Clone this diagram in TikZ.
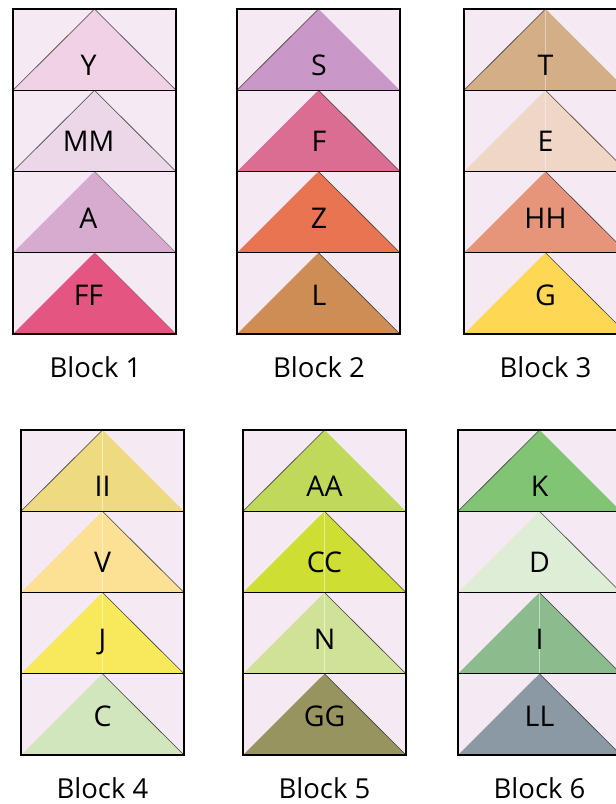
\documentclass[tikz,border=0pt]{standalone}
\usepackage{fontspec}
\setmainfont{Open Sans}
\usetikzlibrary{positioning}
\definecolor{cellbg}{HTML}{F5EAF3}
\definecolor{patchY}{HTML}{F0D1E6}
\definecolor{patchMM}{HTML}{ECD7E8}
\definecolor{patchA}{HTML}{D6ABCF}
\definecolor{patchFF}{HTML}{E45582}
\definecolor{patchS}{HTML}{CA98C8}
\definecolor{patchF}{HTML}{DA6D91}
\definecolor{patchZ}{HTML}{E87452}
\definecolor{patchL}{HTML}{CD8D55}
\definecolor{patchT}{HTML}{D4AE87}
\definecolor{patchE}{HTML}{EFD6C6}
\definecolor{patchHH}{HTML}{E7957A}
\definecolor{patchG}{HTML}{FED855}
\definecolor{patchII}{HTML}{EDDA81}
\definecolor{patchV}{HTML}{FCE195}
\definecolor{patchJ}{HTML}{F8E95C}
\definecolor{patchC}{HTML}{D1E6BD}
\definecolor{patchAA}{HTML}{C0D95B}
\definecolor{patchCC}{HTML}{CFDE33}
\definecolor{patchN}{HTML}{D0E198}
\definecolor{patchGG}{HTML}{989460}
\definecolor{patchK}{HTML}{81C574}
\definecolor{patchD}{HTML}{DEEDD6}
\definecolor{patchI}{HTML}{8CBB8D}
\definecolor{patchLL}{HTML}{8B99A4}

\tikzset{
  cellbox/.style={draw=black, line width=1.3pt},
  slant line/.style={draw=black!75, line width=0.6pt},
  mid line/.style={draw=white, line width=0.8pt},
  patch label/.style={font=\fontsize{28.5}{30}\selectfont, anchor=base, inner sep=0pt},
  block label/.style={font=\fontsize{27.5}{30}\selectfont, anchor=base, inner sep=0pt}
}

\begin{document}
\begin{tikzpicture}[x=1pt, y=-1pt]

\useasboundingbox (0,0) rectangle (616,804);
\clip (0,0) rectangle (616,804);

% Block 1
\begin{scope}[shift={(13,9)}]
\foreach \lab/\r/\el/\er/\em in {Y/0/1/1/0, MM/1/1/1/0, A/2/0/0.6/0, FF/3/0/0.4/0} {
  \fill[cellbg] (0,{\r*81.25}) rectangle (163,{(\r+1)*81.25});
  \fill[patch\lab] (0,{(\r+1)*81.25}) -- (81.5,{\r*81.25}) -- (163,{(\r+1)*81.25}) -- cycle;
  \draw[slant line, draw opacity=\el] (0,{(\r+1)*81.25}) -- (81.5,{\r*81.25});
  \draw[slant line, draw opacity=\er] (81.5,{\r*81.25}) -- (163,{(\r+1)*81.25});
  \draw[cellbox] (0,{\r*81.25}) rectangle (163,{(\r+1)*81.25});
  \node[patch label] (b1-\r) at (75.5,{\r*76.9+66}) {\lab};
}
\node[block label] (blk1) at (82.5,368.5) {Block 1};
\end{scope}

% Block 2
\begin{scope}[shift={(237,9)}]
\foreach \lab/\r/\el/\er/\em in {S/0/1/0/0, F/1/0/1/0, Z/2/0/1/0, L/3/0/1/0} {
  \fill[cellbg] (0,{\r*81.25}) rectangle (163,{(\r+1)*81.25});
  \fill[patch\lab] (0,{(\r+1)*81.25}) -- (81.5,{\r*81.25}) -- (163,{(\r+1)*81.25}) -- cycle;
  \draw[slant line, draw opacity=\el] (0,{(\r+1)*81.25}) -- (81.5,{\r*81.25});
  \draw[slant line, draw opacity=\er] (81.5,{\r*81.25}) -- (163,{(\r+1)*81.25});
  \draw[cellbox] (0,{\r*81.25}) rectangle (163,{(\r+1)*81.25});
  \node[patch label] (b2-\r) at (82,{\r*76.9+66}) {\lab};
}
\node[block label] (blk2) at (82,368.5) {Block 2};
\end{scope}

% Block 3 (runs past the right edge)
\begin{scope}[shift={(464,9)}]
\foreach \lab/\r/\el/\er/\em in {T/0/1/0/0.4, E/1/0/1/0.4, HH/2/0/1/0, G/3/0/1/0} {
  \fill[cellbg] (0,{\r*81.25}) rectangle (163,{(\r+1)*81.25});
  \fill[patch\lab] (0,{(\r+1)*81.25}) -- (81.5,{\r*81.25}) -- (163,{(\r+1)*81.25}) -- cycle;
  \draw[mid line, draw opacity=\em] (81.5,{\r*81.25}) -- (81.5,{(\r+1)*81.25});
  \draw[slant line, draw opacity=\el] (0,{(\r+1)*81.25}) -- (81.5,{\r*81.25});
  \draw[slant line, draw opacity=\er] (81.5,{\r*81.25}) -- (163,{(\r+1)*81.25});
  \draw[cellbox] (0,{\r*81.25}) rectangle (163,{(\r+1)*81.25});
  \node[patch label] (b3-\r) at (81.5,{\r*76.9+66}) {\lab};
}
\node[block label] (blk3) at (81.5,368.5) {Block 3};
\end{scope}

% Block 4
\begin{scope}[shift={(21,430)}]
\foreach \lab/\r/\el/\er/\em in {II/0/1/0/0.5, V/1/0/1/0.5, J/2/0/1/0.5, C/3/0/1/0} {
  \fill[cellbg] (0,{\r*81.25}) rectangle (163,{(\r+1)*81.25});
  \fill[patch\lab] (0,{(\r+1)*81.25}) -- (81.5,{\r*81.25}) -- (163,{(\r+1)*81.25}) -- cycle;
  \draw[mid line, draw opacity=\em] (81.5,{\r*81.25}) -- (81.5,{(\r+1)*81.25});
  \draw[slant line, draw opacity=\el] (0,{(\r+1)*81.25}) -- (81.5,{\r*81.25});
  \draw[slant line, draw opacity=\er] (81.5,{\r*81.25}) -- (163,{(\r+1)*81.25});
  \draw[cellbox] (0,{\r*81.25}) rectangle (163,{(\r+1)*81.25});
  \node[patch label] (b4-\r) at (81.5,{\r*76.9+66}) {\lab};
}
\node[block label] (blk4) at (81.5,368) {Block 4};
\end{scope}

% Block 5
\begin{scope}[shift={(243,430)}]
\foreach \lab/\r/\el/\er/\em in {AA/0/1/0/0, CC/1/0/1/0.5, N/2/0/1/0.5, GG/3/0/1/0} {
  \fill[cellbg] (0,{\r*81.25}) rectangle (163,{(\r+1)*81.25});
  \fill[patch\lab] (0,{(\r+1)*81.25}) -- (81.5,{\r*81.25}) -- (163,{(\r+1)*81.25}) -- cycle;
  \draw[mid line, draw opacity=\em] (81.5,{\r*81.25}) -- (81.5,{(\r+1)*81.25});
  \draw[slant line, draw opacity=\el] (0,{(\r+1)*81.25}) -- (81.5,{\r*81.25});
  \draw[slant line, draw opacity=\er] (81.5,{\r*81.25}) -- (163,{(\r+1)*81.25});
  \draw[cellbox] (0,{\r*81.25}) rectangle (163,{(\r+1)*81.25});
  \node[patch label] (b5-\r) at (81.5,{\r*76.9+66}) {\lab};
}
\node[block label] (blk5) at (81.5,368) {Block 5};
\end{scope}

% Block 6 (runs past the right edge)
\begin{scope}[shift={(458,430)}]
\foreach \lab/\r/\el/\er/\em in {K/0/1/0/0, D/1/0/1/0, I/2/0/1/0.5, LL/3/0/1/0} {
  \fill[cellbg] (0,{\r*81.25}) rectangle (163,{(\r+1)*81.25});
  \fill[patch\lab] (0,{(\r+1)*81.25}) -- (81.5,{\r*81.25}) -- (163,{(\r+1)*81.25}) -- cycle;
  \draw[mid line, draw opacity=\em] (81.5,{\r*81.25}) -- (81.5,{(\r+1)*81.25});
  \draw[slant line, draw opacity=\el] (0,{(\r+1)*81.25}) -- (81.5,{\r*81.25});
  \draw[slant line, draw opacity=\er] (81.5,{\r*81.25}) -- (163,{(\r+1)*81.25});
  \draw[cellbox] (0,{\r*81.25}) rectangle (163,{(\r+1)*81.25});
  \node[patch label] (b6-\r) at (81.5,{\r*76.9+66}) {\lab};
}
\node[block label] (blk6) at (81.5,368) {Block 6};
\end{scope}

\end{tikzpicture}
\end{document}
